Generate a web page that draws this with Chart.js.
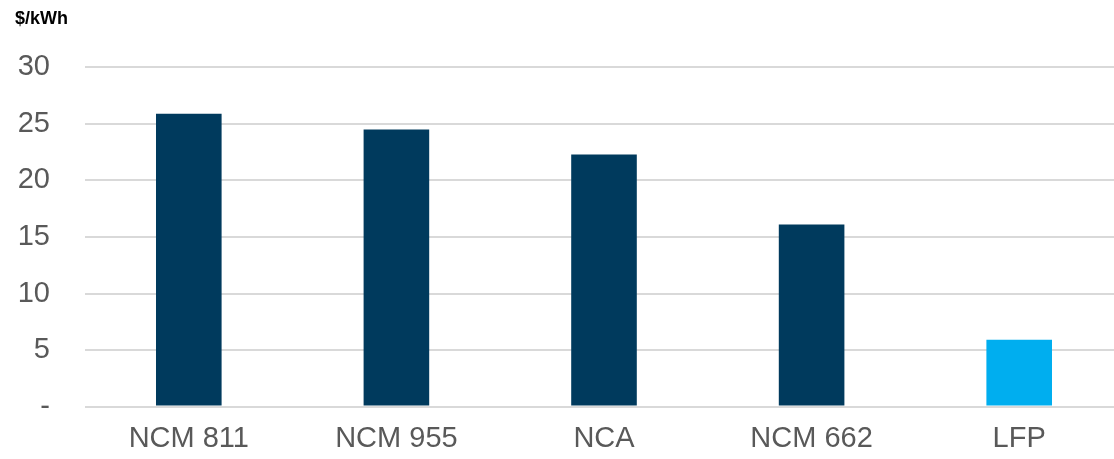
<!DOCTYPE html>
<html>
<head>
<meta charset="utf-8">
<script src="https://cdn.jsdelivr.net/npm/chart.js@4.4.0/dist/chart.umd.min.js"></script>
<style>
  html, body { margin: 0; padding: 0; background: #fff; overflow: hidden; }
  /* a grade passa um pouco da borda direita, como no original */
  #wrap { width: 1123px; height: 459px; }
</style>
</head>
<body>
<div id="wrap"><canvas id="grafico"></canvas></div>
<script>
const categorias = ['NCM 811', 'NCM 955', 'NCA', 'NCM 662', 'LFP'];
const valores = [25.9, 24.5, 22.3, 16.1, 5.9];
const cores = ['#003A5D', '#003A5D', '#003A5D', '#003A5D', '#00AEEF'];
const ticksY = [0, 5, 10, 15, 20, 25, 30];

const fonte = '"Liberation Sans", Arial, sans-serif';

new Chart(document.getElementById('grafico').getContext('2d'), {
  type: 'bar',
  data: {
    labels: categorias,
    datasets: [{
      label: '$/kWh',
      data: valores,
      backgroundColor: cores,
      borderWidth: 0,
      barPercentage: 0.316,
      categoryPercentage: 1
    }]
  },
  options: {
    responsive: true,
    maintainAspectRatio: false,
    animation: false,
    layout: { padding: { left: 15, right: 0, top: 0, bottom: 0 } },
    scales: {
      y: {
        min: 0,
        max: 30,
        afterBuildTicks: s => { s.ticks = ticksY.map(v => ({ value: v })); },
        afterFit: s => { s.width = 70; },
        ticks: {
          padding: 35,
          color: '#595959',
          font: { family: fonte, size: 29 },
          callback: v => v === 0 ? '-' : v
        },
        grid: { color: '#D9D9D9', lineWidth: 2, drawTicks: false },
        border: { display: false }
      },
      x: {
        afterFit: s => { s.height = 42; },
        ticks: {
          padding: 15,
          color: '#595959',
          font: { family: fonte, size: 29 }
        },
        grid: { display: false, drawTicks: false },
        border: { display: false }
      }
    },
    plugins: {
      legend: { display: false },
      tooltip: { enabled: false },
      title: {
        display: true,
        text: '$/kWh',
        align: 'start',
        color: '#000000',
        font: { family: fonte, size: 18, weight: 'bold' },
        padding: { top: 8.5, bottom: 37.2 }
      }
    }
  }
});
</script>
</body>
</html>
